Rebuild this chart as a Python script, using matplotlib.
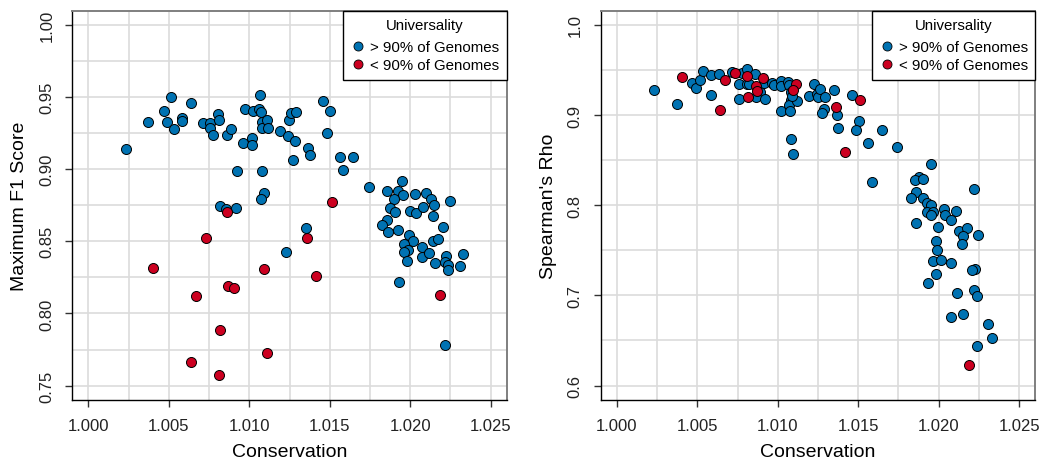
import numpy as np
import matplotlib
matplotlib.use("Agg")
import matplotlib.pyplot as plt
from matplotlib.lines import Line2D
from matplotlib.ticker import MultipleLocator, FormatStrFormatter

plt.rcParams['font.family'] = ['Liberation Sans', 'DejaVu Sans']

# conservation vs maximum F1, genes present in >90% of genomes
f1_cons_hi = [1.00232, 1.00373, 1.00514, 1.00468, 1.00487, 1.00534, 1.00582, 1.00582, 1.00636, 1.00711,
              1.00756, 1.00756, 1.00776, 1.00806, 1.00814, 1.00860, 1.00884, 1.00922, 1.00959, 1.00975,
              1.01017, 1.01017, 1.01021, 1.01060, 1.01068, 1.01073, 1.01079, 1.01081, 1.01081, 1.01108,
              1.01116, 1.01091, 1.01075, 1.01189, 1.01240, 1.01245, 1.01261, 1.01292, 1.01271, 1.01284,
              1.01363, 1.01375, 1.01350, 1.01460, 1.01503, 1.01481, 1.01561, 1.01584, 1.01644, 1.00820,
              1.00916, 1.01226, 1.00853,
              1.01742, 1.01947, 1.01853, 1.01924, 1.01955, 1.01899, 1.02031, 1.02099, 1.02127, 1.02147,
              1.02247, 1.01874, 1.01905, 1.01996, 1.02035, 1.02077, 1.02139, 1.01855, 1.01824, 1.01860,
              1.01922, 1.01990, 1.02017, 1.02207, 1.02143, 1.02172, 1.01959, 1.01984, 1.01963, 1.01981,
              1.02075, 1.02075, 1.02114, 1.02152, 1.02222, 1.02217, 1.02236, 1.02236, 1.02309, 1.02329,
              1.01930, 1.02217]
f1_hi = [0.9138, 0.9329, 0.9497, 0.9405, 0.9327, 0.9279, 0.9355, 0.9331, 0.9459, 0.9322,
         0.9320, 0.9286, 0.9237, 0.9382, 0.9338, 0.9237, 0.9279, 0.8988, 0.9184, 0.9417,
         0.9214, 0.9165, 0.9405, 0.9414, 0.9516, 0.9396, 0.9324, 0.8990, 0.9288, 0.9338,
         0.9288, 0.8833, 0.8792, 0.9265, 0.9232, 0.9341, 0.9391, 0.9398, 0.9064, 0.9198,
         0.9147, 0.9101, 0.8589, 0.9470, 0.9400, 0.9251, 0.9087, 0.8997, 0.9087, 0.8743,
         0.8732, 0.8423, 0.8723,
         0.8875, 0.8919, 0.8847, 0.8850, 0.8820, 0.8790, 0.8826, 0.8836, 0.8795, 0.8755,
         0.8776, 0.8732, 0.8700, 0.8712, 0.8695, 0.8741, 0.8672, 0.8645, 0.8610, 0.8568,
         0.8575, 0.8546, 0.8501, 0.8596, 0.8504, 0.8513, 0.8479, 0.8437, 0.8425, 0.8366,
         0.8463, 0.8391, 0.8416, 0.8352, 0.8398, 0.8359, 0.8335, 0.8299, 0.8329, 0.8414,
         0.8216, 0.7780]

# genes present in <90% of genomes
f1_cons_lo = [1.00860, 1.00729, 1.01360, 1.01512, 1.00402, 1.01093, 1.01412, 1.00868, 1.00905, 1.00669,
              1.00816, 1.01112, 1.00640, 1.00810, 1.02184]
f1_lo = [0.8705, 0.8523, 0.8525, 0.8774, 0.8313, 0.8308, 0.8257, 0.8188, 0.8174, 0.8119,
         0.7886, 0.7725, 0.7665, 0.7570, 0.8126]

# conservation vs Spearman's rho
rho_cons_hi = [1.00232, 1.00377, 1.00470, 1.00491, 1.00514, 1.00538, 1.00583, 1.00583, 1.00638, 1.00714,
               1.00758, 1.00758, 1.00781, 1.00812, 1.00807, 1.00824, 1.00859, 1.00888, 1.00863, 1.00915,
               1.00921, 1.00963, 1.00977, 1.01019, 1.01023, 1.01019, 1.01062, 1.01073, 1.01081, 1.01081,
               1.01073, 1.01077, 1.01083, 1.01093, 1.01118, 1.01193, 1.01226, 1.01241, 1.01248, 1.01263,
               1.01294, 1.01288, 1.01273, 1.01350, 1.01366, 1.01377, 1.01462, 1.01505, 1.01486, 1.01561,
               1.01586, 1.01649, 1.01090,
               1.01742, 1.01954, 1.01877, 1.01855, 1.01905, 1.02219, 1.01859, 1.01826, 1.01900, 1.01925,
               1.01950, 1.02033, 1.02106, 1.01929, 1.01962, 1.01954, 1.02037, 1.02079, 1.01859, 1.01998,
               1.02129, 1.02174, 1.02149, 1.02244, 1.02145, 1.01983, 1.01992, 1.01965, 1.02017, 1.02077,
               1.01983, 1.01932, 1.02225, 1.02209, 1.02116, 1.02219, 1.02236, 1.02153, 1.02075, 1.02309,
               1.02334, 1.02238]
rho_hi = [0.9276, 0.9125, 0.9357, 0.9299, 0.9394, 0.9494, 0.9449, 0.9224, 0.9460, 0.9483,
          0.9350, 0.9183, 0.9468, 0.9512, 0.9350, 0.9350, 0.9454, 0.9261, 0.9206, 0.9354,
          0.9180, 0.9361, 0.9339, 0.9376, 0.9327, 0.9044, 0.9365, 0.9339, 0.9261, 0.9172,
          0.9117, 0.9050, 0.8734, 0.8567, 0.9161, 0.9213, 0.9346, 0.9235, 0.9206, 0.9288,
          0.9199, 0.9066, 0.9022, 0.9283, 0.9003, 0.8855, 0.9224, 0.8929, 0.8840, 0.8685,
          0.8260, 0.8833, 0.9210,
          0.8643, 0.8460, 0.8312, 0.8275, 0.8294, 0.8175, 0.8142, 0.8083, 0.8075, 0.8028,
          0.8006, 0.7953, 0.7939, 0.7925, 0.7925, 0.7887, 0.7887, 0.7836, 0.7806, 0.7762,
          0.7717, 0.7747, 0.7659, 0.7665, 0.7570, 0.7603, 0.7507, 0.7377, 0.7393, 0.7363,
          0.7233, 0.7138, 0.7296, 0.7278, 0.7030, 0.7056, 0.6994, 0.6794, 0.6757, 0.6687,
          0.6529, 0.6435]

rho_cons_lo = [1.00402, 1.00642, 1.00673, 1.00733, 1.00812, 1.00818, 1.00865, 1.00870, 1.00908, 1.01114,
               1.01095, 1.01365, 1.01514, 1.01420, 1.02186]
rho_lo = [0.9427, 0.9062, 0.9391, 0.9465, 0.9438, 0.9202, 0.9321, 0.9272, 0.9409, 0.9343,
          0.9274, 0.9091, 0.9169, 0.8596, 0.6225]

BLUE = '#0072B2'
RED = '#CC0020'


def panel(ax, xb, yb, xr, yr, ylim, ystep, yfmt, ylabel):
    ax.set_xlim(0.999, 1.026)
    ax.set_ylim(*ylim)

    ax.xaxis.set_major_locator(MultipleLocator(0.005))
    ax.xaxis.set_minor_locator(MultipleLocator(0.0025))
    ax.yaxis.set_major_locator(MultipleLocator(ystep))
    ax.yaxis.set_minor_locator(MultipleLocator(ystep / 2))
    ax.xaxis.set_major_formatter(FormatStrFormatter('%.3f'))
    ax.yaxis.set_major_formatter(FormatStrFormatter(yfmt))

    ax.grid(which='both', color='#dcdcdc', linewidth=1.2, zorder=0)
    ax.set_axisbelow(True)

    ax.tick_params(which='major', direction='out', length=5, width=1, colors='#333333',
                   labelcolor='#222222', labelsize=12, pad=8)
    ax.tick_params(which='minor', length=0)
    plt.setp(ax.get_yticklabels(), rotation=90, va='center')

    for s in ['left', 'bottom']:
        ax.spines[s].set_color('black')
        ax.spines[s].set_linewidth(1.0)
    for s in ['top', 'right']:
        ax.spines[s].set_color('#7f7f7f')
        ax.spines[s].set_linewidth(1.4)

    ax.scatter(xb, yb, s=52, c=BLUE, edgecolors='black', linewidths=0.7, zorder=3)
    ax.scatter(xr, yr, s=52, c=RED, edgecolors='black', linewidths=0.7, zorder=4)

    ax.set_xlabel('Conservation', fontsize=14, labelpad=7)
    ax.set_ylabel(ylabel, fontsize=14, labelpad=8)

    handles = [Line2D([], [], linestyle='none', marker='o', markersize=6.5, markerfacecolor=BLUE,
                      markeredgecolor='black', markeredgewidth=0.6),
               Line2D([], [], linestyle='none', marker='o', markersize=6.5, markerfacecolor=RED,
                      markeredgecolor='black', markeredgewidth=0.6)]
    leg = ax.legend(handles, ['> 90% of Genomes', '< 90% of Genomes'], title='Universality',
                    loc='upper right', bbox_to_anchor=(1, 1), borderaxespad=0, fontsize=10.8,
                    title_fontsize=10.8, fancybox=False, framealpha=1, edgecolor='black',
                    handletextpad=0.3, handlelength=1.0, labelspacing=0.25, borderpad=0.5)
    leg._legend_box.sep = 6
    leg.get_frame().set_linewidth(1.0)
    leg.set_zorder(10)


fig = plt.figure(figsize=(10.39, 4.64), dpi=100)
ax1 = fig.add_axes([0.0696, 0.1358, 0.4181, 0.8394])
ax2 = fig.add_axes([0.5782, 0.1358, 0.4181, 0.8394])

panel(ax1, f1_cons_hi, f1_hi, f1_cons_lo, f1_lo, (0.74, 1.01), 0.05, '%.2f', 'Maximum F1 Score')
panel(ax2, rho_cons_hi, rho_hi, rho_cons_lo, rho_lo, (0.584, 1.016), 0.1, '%.1f', "Spearman's Rho")

fig.savefig('out.png', dpi=100)
